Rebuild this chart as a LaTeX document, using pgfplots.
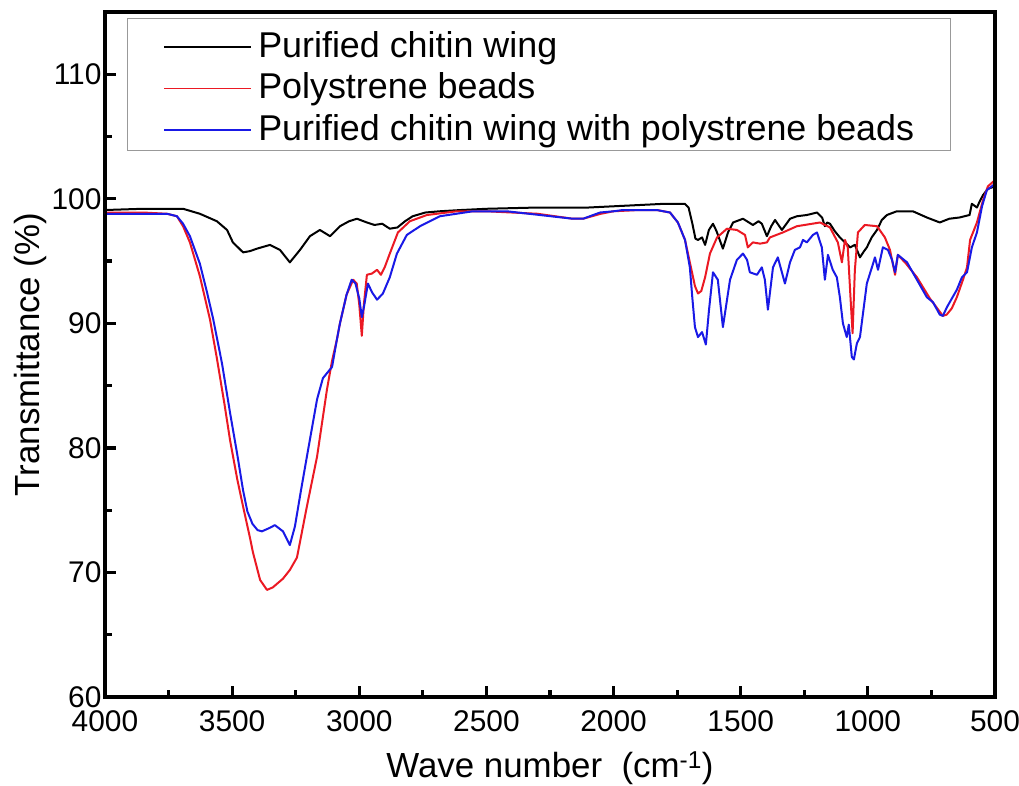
\documentclass[border=0pt]{standalone}
\usepackage{fontspec}
\setmainfont{Liberation Sans}
\usepackage{pgfplots}
\pgfplotsset{compat=1.18}
\definecolor{cred}{RGB}{235,25,35}
\definecolor{cblue}{RGB}{25,25,230}
\begin{document}
\begin{tikzpicture}
\begin{axis}[
  name=ax,
  scale only axis,
  width=890bp, height=685bp,
  x dir=reverse,
  xmin=500, xmax=4000, ymin=60, ymax=115,
  xtick={500,1000,...,4000},
  ytick={60,70,...,110},
  minor x tick num=1, minor y tick num=1,
  tick align=inside,
  xtick pos=bottom, ytick pos=left,
  major tick length=11bp, minor tick length=7bp,
  tick style={line width=3.2bp, black},
  major tick style={line width=3.2bp, black},
  minor tick style={line width=3.2bp, black},
  axis line style={line width=3.2bp},
  /pgf/number format/assume math mode=true,
  /pgf/number format/1000 sep={},
  ticklabel style={font=\fontsize{30}{36}\selectfont},
  xticklabel style={yshift=-10bp},
  xlabel={Wave number\ \ (cm\textsuperscript{-1})},
  ylabel={Transmittance (\%)},
  xlabel style={font=\fontsize{35}{40}\selectfont, at={([yshift=-55bp]axis description cs:0.5,0)}, anchor=north, inner sep=0pt},
  ylabel style={font=\fontsize{35}{40}\selectfont, at={([xshift=-75bp]axis description cs:0,0.5)}, anchor=center, rotate=0, inner sep=0pt},
  legend style={at={([xshift=22bp,yshift=-6bp]axis description cs:0,1)}, anchor=north west,
    draw=gray!80, line width=1.2bp, fill=white,
    font=\fontsize{36}{42}\selectfont,
    inner xsep=36bp, inner ysep=6.5bp, row sep=5.5bp,
    nodes={inner sep=0pt, text height=32bp, text depth=4bp},
    cells={anchor=west}},
  legend image code/.code={\draw[#1, line width=1.4bp] (0bp,-4bp) -- (87bp,-4bp); \path (93bp,0bp);},
  every axis plot/.append style={line width=2bp, line join=round},
]
\addplot[black] coordinates {
(4000,99.1)(3850,99.2)(3756,99.2)(3693,99.2)(3660,99.0)(3627,98.8)(3560,98.2)(3520,97.5)
(3497,96.5)(3457,95.7)(3430,95.8)(3402,96.0)(3351,96.3)(3312,95.9)(3273,94.9)(3233,95.9)
(3194,97.0)(3155,97.5)(3115,97.0)(3076,97.8)(3040,98.2)(3009,98.4)(2970,98.1)(2940,97.9)
(2910,98.0)(2880,97.6)(2850,97.7)(2820,98.2)(2790,98.6)(2740,98.9)(2683,99.0)(2600,99.1)
(2500,99.2)(2300,99.3)(2100,99.3)(2000,99.4)(1900,99.5)(1800,99.6)(1720,99.6)(1705,99.3)
(1690,98.0)(1678,96.8)(1668,96.7)(1652,96.9)(1640,96.3)(1625,97.5)(1609,98.0)(1595,97.4)
(1570,96.0)(1550,97.3)(1530,98.1)(1491,98.4)(1452,97.9)(1430,98.2)(1417,98.0)(1397,97.0)
(1380,97.8)(1365,98.3)(1338,97.5)(1320,98.0)(1306,98.4)(1279,98.6)(1240,98.7)(1200,98.9)
(1180,98.5)(1169,97.8)(1160,98.1)(1149,98.0)(1130,97.4)(1110,96.9)(1090,96.5)(1070,96.1)
(1051,96.3)(1031,95.3)(1015,95.8)(1004,96.1)(985,96.9)(964,97.5)(945,98.3)(925,98.7)
(886,99.0)(823,99.0)(768,98.5)(717,98.1)(680,98.4)(640,98.5)(600,98.7)(591,99.6)
(571,99.3)(560,99.8)(547,100.3)(528,100.8)(500,101.0)
};
\addlegendentry{Purified chitin wing}
\addplot[cred] coordinates {
(4000,98.9)(3850,98.9)(3756,98.8)(3717,98.6)(3693,97.8)(3666,96.5)(3627,93.8)(3587,90.3)
(3560,87.2)(3530,83.5)(3508,80.6)(3480,77.5)(3457,75.3)(3430,72.8)(3418,71.6)(3390,69.4)
(3363,68.6)(3340,68.8)(3300,69.5)(3273,70.2)(3245,71.2)(3206,75.3)(3166,79.3)(3127,84.7)
(3107,87.0)(3088,88.7)(3076,90.0)(3050,92.3)(3024,93.5)(3010,93.2)(3000,91.5)(2990,89.0)
(2982,91.5)(2970,93.9)(2950,94.0)(2930,94.3)(2915,93.9)(2900,94.5)(2880,95.6)(2848,97.3)
(2801,98.2)(2734,98.7)(2616,99.0)(2500,99.0)(2300,98.8)(2160,98.4)(2120,98.4)(2050,98.8)
(2000,99.0)(1900,99.1)(1830,99.1)(1778,98.9)(1747,98.1)(1719,96.7)(1700,94.9)(1680,93.0)
(1668,92.4)(1655,92.6)(1640,93.7)(1621,95.6)(1593,96.9)(1554,97.6)(1515,97.5)(1483,97.1)
(1472,96.1)(1452,96.5)(1424,96.4)(1397,96.5)(1385,96.9)(1334,97.3)(1279,97.8)(1188,98.1)
(1149,97.7)(1118,96.5)(1102,94.9)(1090,96.7)(1079,96.1)(1068,92.0)(1060,89.2)(1051,94.3)
(1039,97.3)(1012,97.9)(964,97.8)(933,96.9)(913,95.9)(893,93.9)(882,95.5)(850,94.8)
(807,93.7)(756,92.0)(705,90.6)(690,90.7)(670,91.2)(650,92.1)(626,93.5)(610,94.5)
(598,96.7)(571,98.1)(547,99.9)(528,101.0)(500,101.5)
};
\addlegendentry{Polystrene beads}
\addplot[cblue] coordinates {
(4000,98.8)(3850,98.8)(3756,98.8)(3717,98.6)(3693,98.0)(3666,97.0)(3627,94.8)(3600,92.6)
(3575,90.4)(3540,86.8)(3508,82.8)(3480,79.5)(3457,76.6)(3440,74.9)(3420,73.9)(3400,73.4)(3383,73.3)
(3350,73.6)(3332,73.8)(3300,73.3)(3273,72.2)(3253,73.7)(3230,76.5)(3206,79.3)(3166,83.9)
(3143,85.6)(3107,86.5)(3088,88.7)(3076,90.0)(3050,92.3)(3030,93.5)(3015,93.2)(3000,92.0)
(2990,90.5)(2980,91.5)(2966,93.2)(2950,92.5)(2930,91.9)(2907,92.4)(2880,93.7)(2852,95.6)
(2813,97.1)(2761,97.8)(2683,98.6)(2553,99.0)(2420,99.0)(2290,98.7)(2160,98.4)(2120,98.4)
(2053,98.9)(2000,99.0)(1963,99.1)(1830,99.1)(1778,98.9)(1747,98.1)(1719,96.7)(1700,94.5)
(1690,92.0)(1680,89.7)(1668,88.9)(1652,89.3)(1637,88.3)(1625,91.0)(1609,94.1)(1590,93.5)
(1570,89.7)(1542,93.5)(1515,95.1)(1491,95.6)(1475,95.1)(1464,94.1)(1436,93.9)(1417,94.5)
(1405,93.5)(1393,91.1)(1373,94.5)(1354,95.3)(1326,93.2)(1306,94.9)(1287,95.9)(1267,96.1)
(1255,96.7)(1240,96.5)(1216,97.1)(1200,97.3)(1181,96.1)(1169,93.5)(1157,95.5)(1138,94.3)
(1122,93.7)(1110,92.1)(1098,90.0)(1083,88.9)(1075,89.9)(1063,87.3)(1055,87.1)(1043,88.4)
(1031,88.9)(1004,93.2)(984,94.5)(972,95.3)(960,94.3)(941,96.1)(921,95.9)(905,95.1)
(893,94.1)(882,95.5)(846,94.9)(807,93.5)(768,92.1)(744,91.7)(717,90.7)(705,90.6)
(689,91.3)(650,92.7)(630,93.7)(610,94.1)(591,96.1)(571,97.3)(551,99.4)(532,100.7)(500,101.2)
};
\addlegendentry{Purified chitin wing with polystrene beads}
\coordinate (O) at (rel axis cs:0,0);
\draw[line width=3.2bp, line join=miter] (rel axis cs:0,0) rectangle (rel axis cs:1,1);
\end{axis}
\pgfresetboundingbox
\path ([xshift=-105bp,yshift=-89bp]O) rectangle ([xshift=914bp,yshift=697bp]O);
\end{tikzpicture}
\end{document}
